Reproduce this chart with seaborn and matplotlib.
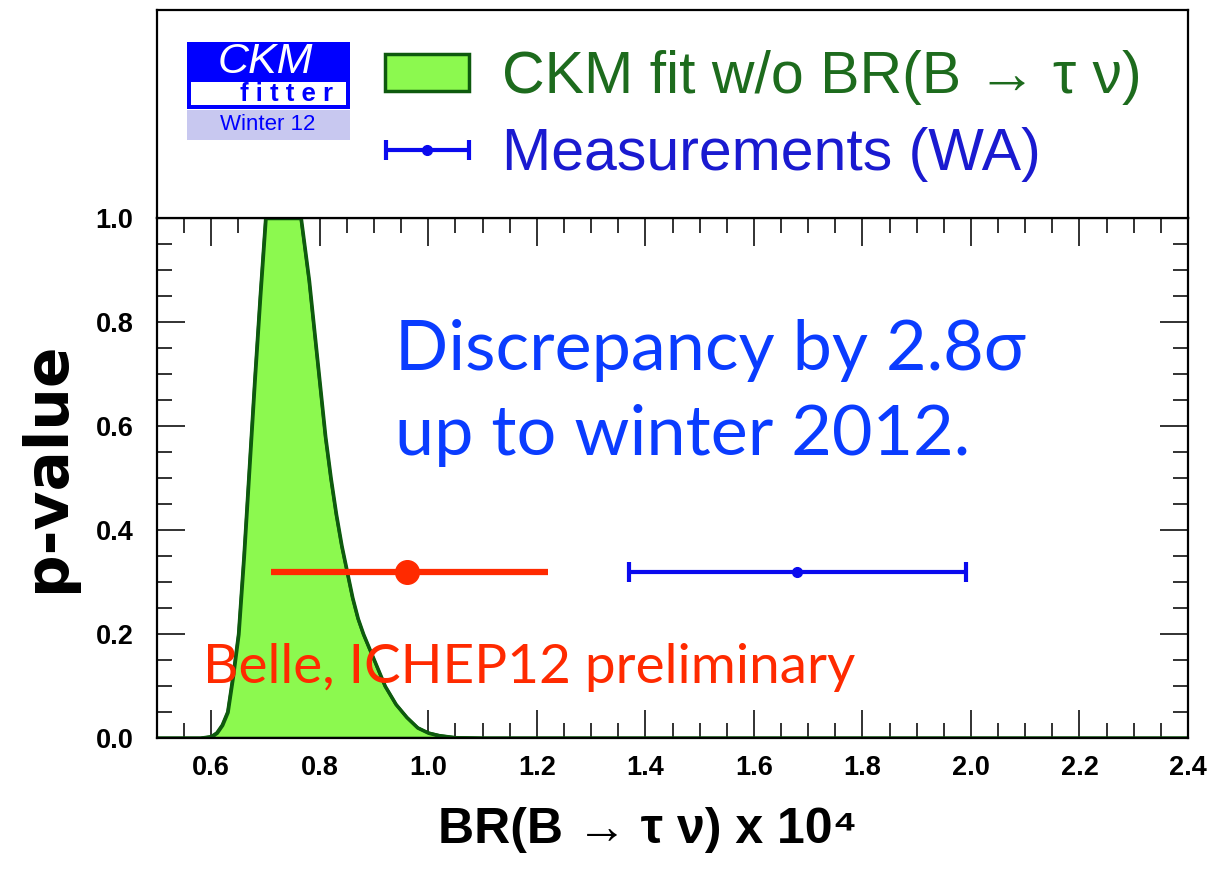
import matplotlib
matplotlib.use("Agg")
import matplotlib.pyplot as plt
from matplotlib.patches import Rectangle
from matplotlib.ticker import MultipleLocator
from matplotlib.legend_handler import HandlerErrorbar
from matplotlib.container import ErrorbarContainer
import seaborn as sns

# CKMfitter p-value scan of BR(B -> tau nu) x 1e4, fit without the direct measurement
fit_br = [0.50, 0.58, 0.60, 0.61, 0.62, 0.63, 0.64, 0.65, 0.66, 0.67, 0.68, 0.69,
          0.70, 0.72, 0.74, 0.76, 0.765, 0.77, 0.78, 0.79, 0.80, 0.81, 0.82, 0.83,
          0.84, 0.85, 0.86, 0.87, 0.88, 0.90, 0.92, 0.94, 0.96, 0.98, 1.00, 1.02,
          1.05, 1.10, 2.40]
fit_pvalue = [0.0, 0.0, 0.003, 0.01, 0.025, 0.05, 0.12, 0.20, 0.35, 0.52, 0.69, 0.85,
              1.0, 1.0, 1.0, 1.0, 1.0, 0.96, 0.88, 0.78, 0.68, 0.58, 0.50, 0.43,
              0.37, 0.32, 0.27, 0.23, 0.20, 0.15, 0.10, 0.065, 0.04, 0.02, 0.01, 0.005,
              0.001, 0.0, 0.0]

# Measurements: Belle ICHEP12 (preliminary) and world average
meas_names = ["Belle, ICHEP12 preliminary", "Measurements (WA)"]
meas_center = [0.96, 1.68]
meas_err_lo = [0.25, 0.31]
meas_err_hi = [0.26, 0.31]
meas_pvalue = [0.32, 0.32]

fit_label = "CKM fit w/o BR(B → τ ν)"
note_lines = ["Discrepancy by 2.8σ", "up to winter 2012."]
x_ticks = [0.6, 0.8, 1.0, 1.2, 1.4, 1.6, 1.8, 2.0, 2.2, 2.4]
y_ticks = [0.0, 0.2, 0.4, 0.6, 0.8, 1.0]

W, H = 1209, 869
sns.set_style("white")
plt.rcParams["font.family"] = ["Liberation Sans", "DejaVu Sans"]
plt.rcParams["text.color"] = "black"
plt.rcParams["axes.labelcolor"] = "black"
plt.rcParams["xtick.color"] = "black"
plt.rcParams["ytick.color"] = "black"

fig = plt.figure(figsize=(W / 100, H / 100), dpi=100)
fig.patch.set_facecolor("white")


def fx(px):
    return px / W


def fy(py):
    return 1 - py / H


L, R, T, B, TOP = 157, 1188, 218, 738, 10
ax = fig.add_axes([fx(L), fy(B), (R - L) / W, (B - T) / H])
head = fig.add_axes([fx(L), fy(T), (R - L) / W, (T - TOP) / H])
head.set_xticks([])
head.set_yticks([])
for a in (ax, head):
    for s in a.spines.values():
        s.set_linewidth(1.6)
        s.set_color("black")

green_fill = "#8cf94f"
green_line = "#0e5a0e"
fill = ax.fill_between(fit_br, fit_pvalue, 0, facecolor=green_fill,
                       edgecolor=green_line, linewidth=2.5, label=fit_label)
sns.lineplot(x=fit_br, y=fit_pvalue, ax=ax, color=green_line, linewidth=2.2,
             estimator=None, sort=False, legend=False)

# Belle measurement
ax.errorbar(meas_center[0], meas_pvalue[0],
            xerr=[[meas_err_lo[0]], [meas_err_hi[0]]],
            fmt="o", color="#ff2a00", ms=17, elinewidth=4.5, capsize=0, zorder=5)
# World average
wa = ax.errorbar(meas_center[1], meas_pvalue[1],
                 xerr=[[meas_err_lo[1]], [meas_err_hi[1]]],
                 fmt="o", color="#0a0aee", ms=7, elinewidth=3, capsize=7,
                 capthick=3, zorder=5, label=meas_names[1])
if ax.get_legend() is not None:
    ax.get_legend().remove()

ax.set_xlim(0.5, 2.4)
ax.set_ylim(0.0, 1.0)
tick_font = dict(fontsize=19.5, fontweight="bold", family=["Liberation Sans", "DejaVu Sans"])
ax.set_xticks(x_ticks, labels=[f"{v:.1f}" for v in x_ticks], **tick_font)
ax.set_yticks(y_ticks, labels=[f"{v:.1f}" for v in y_ticks], **tick_font)
ax.xaxis.set_minor_locator(MultipleLocator(0.05))
ax.yaxis.set_minor_locator(MultipleLocator(0.05))
ax.tick_params(which="major", direction="in", length=20, width=1.3,
               top=True, right=True, bottom=True, left=True, color="#222222")
ax.tick_params(which="minor", direction="in", length=11, width=1.3,
               top=True, right=True, bottom=True, left=True, color="#222222")
ax.tick_params(axis="x", which="major", pad=12)
ax.tick_params(axis="y", which="major", pad=17)

ax.set_xlabel("BR(B → τ ν) x 10⁴", fontsize=36, fontweight="bold",
              family=["Liberation Sans", "DejaVu Sans"])
ax.xaxis.set_label_coords((648 - L) / (R - L), (B - 830) / (B - T))
ax.xaxis.label.set_va("center")
ax.set_ylabel("p-value", fontsize=43, fontweight="bold", family=["DejaVu Sans"])
ax.yaxis.set_label_coords((48 - L) / (R - L), (B - 467) / (B - T))
ax.yaxis.label.set_va("center")
ax.yaxis.label.set_ha("center")

# Annotations
note_font = ["Lato", "DejaVu Sans"]
fig.text(fx(395), fy(370), note_lines[0], color="#0a3cff", fontsize=50.5,
         family=note_font, va="baseline", ha="left")
fig.text(fx(395), fy(455), note_lines[1], color="#0a3cff", fontsize=50.5,
         family=note_font, va="baseline", ha="left")
fig.text(fx(203), fy(683), meas_names[0], color="#ff2a00", fontsize=39.5,
         family=note_font, va="baseline", ha="left", zorder=10)

# Legend in the header panel
leg = fig.legend(handles=[fill, wa], labels=[fit_label, meas_names[1]],
                 loc="center left", bbox_to_anchor=(fx(385), fy(116)),
                 frameon=False, prop=dict(family=["Liberation Sans", "DejaVu Sans"], size=42.5),
                 handlelength=1.43, handleheight=0.6, handletextpad=0.55,
                 labelspacing=0.36, borderpad=0, borderaxespad=0,
                 handler_map={ErrorbarContainer: HandlerErrorbar(xerr_size=0.7)})
leg.get_texts()[0].set_color("#1d6b1d")
leg.get_texts()[1].set_color("#1a1ad0")

# CKMfitter logo
def box(x0, y0, x1, y1, color):
    fig.add_artist(Rectangle((fx(x0), fy(y1)), (x1 - x0) / W, (y1 - y0) / H,
                             transform=fig.transFigure, facecolor=color,
                             edgecolor="none", zorder=3))


box(187, 42, 350, 109, "#0000ff")
box(191, 82, 346, 105, "white")
box(187, 110, 350, 140, "#c8c8f0")
fig.text(fx(265), fy(62), "CKM", color="white", fontsize=31, style="italic",
         family=["Liberation Sans"], ha="center", va="center", zorder=4)
fig.text(fx(287), fy(94), "f i t t e r", color="#0000ff", fontsize=18.5,
         fontweight="bold", family=["Liberation Sans"], ha="center", va="center", zorder=4)
fig.text(fx(268), fy(125), "Winter 12", color="#0000ff", fontsize=16,
         family=["Liberation Sans"], ha="center", va="center", zorder=4)

fig.savefig("out.png", dpi=100)
